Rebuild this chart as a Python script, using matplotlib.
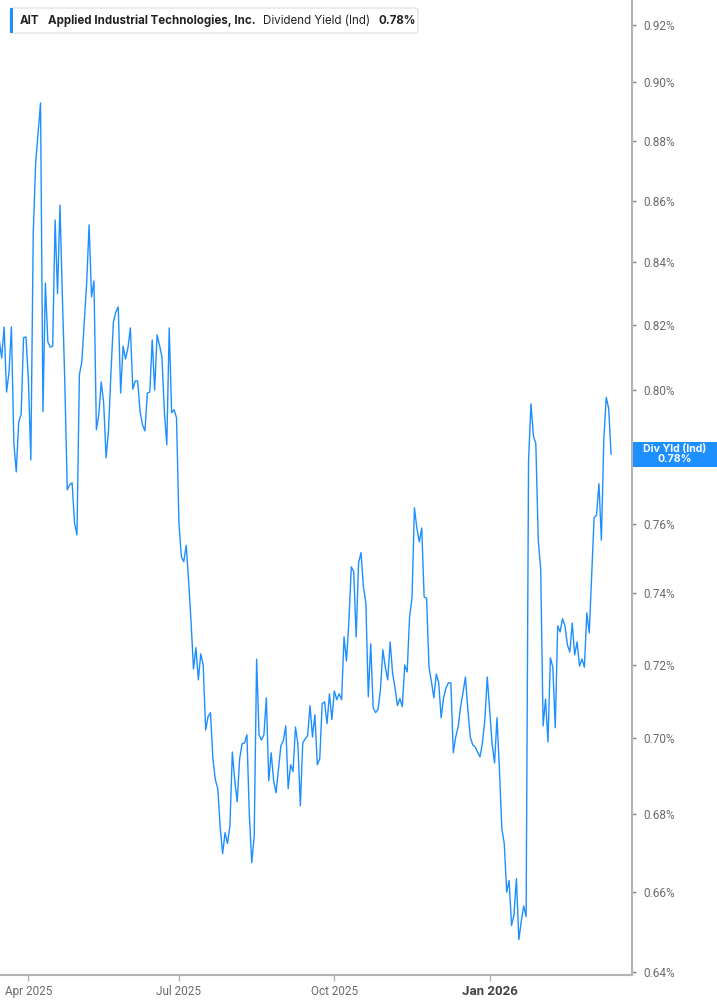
import numpy as np
import pandas as pd
import matplotlib
matplotlib.use('Agg')
import matplotlib.pyplot as plt
from matplotlib.patches import FancyBboxPatch, Rectangle
from matplotlib.ticker import FixedLocator, NullLocator

symbol = 'AIT'
company = 'Applied Industrial Technologies, Inc.'
metric = 'Dividend Yield (Ind)'
metric_short = 'Div Yld (Ind)'

# NYSE holidays inside the window
holidays = ['2025-04-18', '2025-05-26', '2025-06-19', '2025-07-04', '2025-09-01',
            '2025-11-27', '2025-12-25', '2026-01-01', '2026-01-19', '2026-02-16']
last_day = '2026-03-17'

# daily indicated dividend yield, %
div_yield = [
    0.8154, 0.8098, 0.8195, 0.7993, 0.8052, 0.8195, 0.7839, 0.7752, 0.7902, 0.7924,
    0.8161, 0.8164, 0.8030, 0.7788, 0.8496, 0.8727, 0.8827, 0.8930, 0.7933, 0.8334,
    0.8148, 0.8132, 0.8135, 0.8538, 0.8300, 0.8587, 0.8290, 0.8021, 0.7699, 0.7714,
    0.7720, 0.7602, 0.7567, 0.8046, 0.8086, 0.8207, 0.8334, 0.8522, 0.8290, 0.8341,
    0.7878, 0.7924, 0.8024, 0.7960, 0.7794, 0.7878, 0.8052, 0.8210, 0.8242, 0.8258,
    0.7990, 0.8135, 0.8095, 0.8129, 0.8192, 0.8002, 0.8027, 0.8027, 0.7933, 0.7893,
    0.7875, 0.7990, 0.7993, 0.8154, 0.7999, 0.8170, 0.8138, 0.8101, 0.7933, 0.7833,
    0.8192, 0.7930, 0.7939, 0.7915, 0.7602, 0.7504, 0.7490, 0.7537, 0.7435, 0.7319,
    0.7188, 0.7247, 0.7158, 0.7230, 0.7199, 0.7022, 0.7058, 0.7069, 0.6945, 0.6889,
    0.6866, 0.6764, 0.6697, 0.6751, 0.6723, 0.6769, 0.6963, 0.6887, 0.6831, 0.6945,
    0.6985, 0.6987, 0.7009, 0.6797, 0.6674, 0.6741, 0.7215, 0.7009, 0.6995, 0.7009,
    0.7109, 0.6887, 0.6961, 0.6887, 0.6855, 0.6916, 0.6980, 0.6993, 0.7033, 0.6866,
    0.6929, 0.6911, 0.7030, 0.6985, 0.6821, 0.6987, 0.6998, 0.7006, 0.7088, 0.7003,
    0.7063, 0.6929, 0.6945, 0.7093, 0.7098, 0.7039, 0.7120, 0.7050, 0.7128, 0.7104,
    0.7120, 0.7104, 0.7277, 0.7210, 0.7319, 0.7475, 0.7461, 0.7277, 0.7487, 0.7516,
    0.7418, 0.7372, 0.7112, 0.7258, 0.7082, 0.7069, 0.7077, 0.7131, 0.7241, 0.7193,
    0.7158, 0.7263, 0.7177, 0.7136, 0.7088, 0.7107, 0.7085, 0.7199, 0.7180, 0.7333,
    0.7386, 0.7646, 0.7587, 0.7547, 0.7587, 0.7389, 0.7386, 0.7193, 0.7153, 0.7109,
    0.7174, 0.7150, 0.7055, 0.7109, 0.7136, 0.7150, 0.7150, 0.6961, 0.7003, 0.7030,
    0.7085, 0.7123, 0.7166, 0.7077, 0.7003, 0.6982, 0.6977, 0.6963, 0.6950, 0.6987,
    0.7050, 0.7166, 0.7074, 0.6985, 0.6934, 0.7055, 0.6918, 0.6761, 0.6723, 0.6599,
    0.6628, 0.6515, 0.6542, 0.6633, 0.6480, 0.6525, 0.6564, 0.6537, 0.7785, 0.7957,
    0.7860, 0.7836, 0.7552, 0.7469, 0.7033, 0.7106, 0.6990, 0.7219, 0.7193, 0.7028,
    0.7308, 0.7291, 0.7328, 0.7308, 0.7255, 0.7235, 0.7316, 0.7227, 0.7263, 0.7196,
    0.7216, 0.7193, 0.7344, 0.7288, 0.7449, 0.7617, 0.7625, 0.7717, 0.7552, 0.7848,
    0.7977, 0.7943, 0.7805,
]

y_ticks = [0.64, 0.66, 0.68, 0.70, 0.72, 0.74, 0.76, 0.78, 0.80, 0.82, 0.84, 0.86, 0.88, 0.90, 0.92]
x_ticks = ['2025-04-01', '2025-07-01', '2025-10-01', '2026-01-02']
x_labels = ['Apr 2025', 'Jul 2025', 'Oct 2025', 'Jan 2026']

bday = pd.offsets.CustomBusinessDay(holidays=holidays)
dates = pd.date_range(end=last_day, periods=len(div_yield), freq=bday)
idx = np.arange(len(dates))  # trading-day axis, no weekend gaps
tick_idx = [int(dates.searchsorted(pd.Timestamp(d))) for d in x_ticks]

blue = '#1e8fff'
grey_txt = '#6b6b6b'
spine_col = '#b4b4b4'

W, H = 717, 1005
fig = plt.figure(figsize=(W / 100, H / 100), dpi=100)
ax = fig.add_axes([0, 1 - 975 / H, 632 / W, 975 / H])

ax.plot(idx, div_yield, color=blue, lw=1.0)

ax.set_yscale('log')
ax.set_ylim(0.63926, 0.9289)
# Apr tick sits 28px from the left edge, Jan tick at 490px
px_per_day = (489.7 - 28.4) / (tick_idx[-1] - tick_idx[0])
ax.set_xlim(tick_idx[0] - 28.4 / px_per_day, tick_idx[0] + (632 - 28.4) / px_per_day)

last = div_yield[-1]
ax.yaxis.set_major_locator(FixedLocator(y_ticks))
ax.yaxis.set_minor_locator(NullLocator())
# the tick under the value tag is covered, leave its label out
ax.set_yticklabels(['' if abs(v - round(last, 2)) < 1e-9 else '%.2f%%' % v for v in y_ticks])
ax.yaxis.tick_right()
ax.set_xticks(tick_idx)
ax.set_xticklabels(x_labels)
ax.xaxis.set_minor_locator(NullLocator())

for s in ['top', 'left']:
    ax.spines[s].set_visible(False)
for s in ['right', 'bottom']:
    ax.spines[s].set_color(spine_col)
    ax.spines[s].set_linewidth(1.5)

ax.tick_params(axis='y', direction='out', length=3, width=1, color='#888888',
               labelsize=8.5, labelcolor=grey_txt, pad=5)
ax.tick_params(axis='x', direction='out', length=4, width=1, color=spine_col,
               labelsize=8.5, labelcolor=grey_txt, pad=3)
for lab in ax.get_xticklabels() + ax.get_yticklabels():
    lab.set_fontfamily('Roboto')
jan = ax.get_xticklabels()[-1]
jan.set_fontweight('bold')
jan.set_color('#444444')
jan.set_fontsize(9.5)

# header box
fig.patches.append(FancyBboxPatch((10 / W, 1 - 33 / H), 408 / W, 25 / H,
                                  boxstyle='round,pad=0,rounding_size=0.004',
                                  transform=fig.transFigure, facecolor='white',
                                  edgecolor='#e4e4e4', lw=1, zorder=5))
fig.patches.append(Rectangle((10 / W, 1 - 33 / H), 3 / W, 25 / H,
                             transform=fig.transFigure, facecolor=blue,
                             edgecolor='none', zorder=6))

fig.canvas.draw()
renderer = fig.canvas.get_renderer()
parts = [(symbol, 'bold', 8), (company, 'bold', 8),
         (metric, 'normal', 8), ('%.2f%%' % last, 'bold', 0)]
x = 20
for txt, wt, gap in parts:
    t = fig.text(x / W, 1 - 21 / H, txt, fontsize=8.3, fontweight=wt, color='#222222',
                 family='Inter', va='center', ha='left', zorder=7)
    bb = t.get_window_extent(renderer)
    x += bb.width + gap

# value tag at right
y_disp = ax.transData.transform((ax.get_xlim()[1], last))[1]
tag_h = 25
fig.patches.append(Rectangle((633 / W, (y_disp - tag_h / 2) / H), (W - 633) / W, tag_h / H,
                             transform=fig.transFigure, facecolor=blue,
                             edgecolor='none', zorder=6))
fig.text(675 / W, y_disp / H, '%s\n%.2f%%' % (metric_short, last),
         color='white', fontsize=7.6, fontweight='bold', family='Inter',
         ha='center', va='center', multialignment='center', linespacing=0.95, zorder=7)

fig.savefig('out.png', dpi=100)
